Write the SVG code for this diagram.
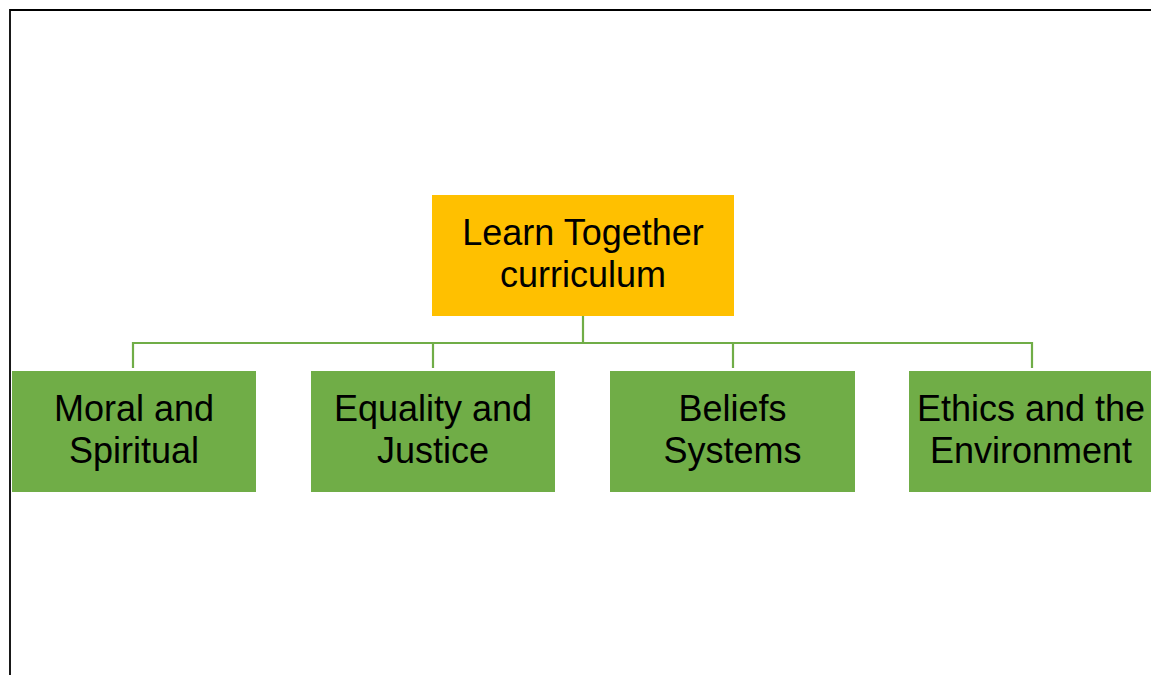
<svg xmlns="http://www.w3.org/2000/svg" width="1151" height="675" viewBox="0 0 1151 675">
<style>
.t{font-family:"Liberation Sans",Arial,sans-serif;font-size:36px;fill:#000;text-anchor:middle}
.g{fill:#70AD47}
.c{stroke:#70AD47;stroke-width:2.2;fill:none}
</style>
<rect width="1151" height="675" fill="#fff"/>
<path d="M10,675 V10 H1151" stroke="#000" stroke-width="1.8" fill="none"/>
<g id="connectors">
<path class="c" d="M583,316 V343 M133,368 V343 H1032 V368 M433,343 V368 M733,343 V368"/>
</g>
<g id="root">
<rect x="432" y="195" width="302" height="121" fill="#FFC000"/>
<text class="t" x="583" y="245">Learn Together</text>
<text class="t" x="583" y="287">curriculum</text>
</g>
<g id="n1">
<rect class="g" x="12" y="371" width="244" height="121"/>
<text class="t" x="134" y="421">Moral and</text>
<text class="t" x="134" y="463">Spiritual</text>
</g>
<g id="n2">
<rect class="g" x="311" y="371" width="244" height="121"/>
<text class="t" x="433" y="421">Equality and</text>
<text class="t" x="433" y="463">Justice</text>
</g>
<g id="n3">
<rect class="g" x="610" y="371" width="245" height="121"/>
<text class="t" x="732.5" y="421">Beliefs</text>
<text class="t" x="732.5" y="463">Systems</text>
</g>
<g id="n4">
<rect class="g" x="909" y="371" width="244" height="121"/>
<text class="t" x="1031" y="421">Ethics and the</text>
<text class="t" x="1031" y="463">Environment</text>
</g>
</svg>
